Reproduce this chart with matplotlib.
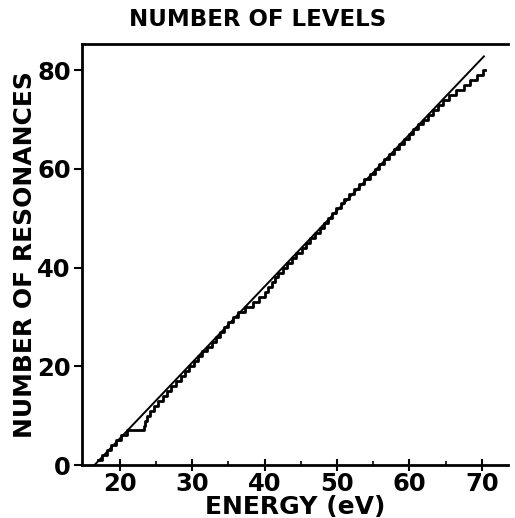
import numpy as np
import matplotlib.pyplot as plt

energias = [17.0, 17.5, 18.2, 18.8, 19.5, 20.2, 21.0, 23.3, 23.5, 23.8,
            24.2, 24.7, 25.3, 25.9, 26.5, 27.1, 27.8, 28.4, 29.0, 29.6,
            30.2, 30.8, 31.4, 32.0, 32.7, 33.3, 33.9, 34.4, 35.0, 35.6,
            36.3, 37.3, 38.4, 39.2, 40.0, 40.5, 41.0, 41.4, 41.9, 42.5,
            43.1, 43.8, 44.4, 45.1, 45.7, 46.3, 46.9, 47.6, 48.2, 48.8,
            49.3, 49.9, 50.5, 51.0, 51.6, 52.4, 53.1, 53.8, 54.5, 55.2,
            55.8, 56.5, 57.2, 57.9, 58.5, 59.2, 59.9, 60.5, 61.2, 61.9,
            62.6, 63.3, 64.0, 64.7, 65.5, 66.5, 67.5, 68.4, 69.3, 70.2]
e_fin = 70.5

# recta de ajuste (dos extremos)
recta_e = [16.5, 70.3]
recta_n = [0.0, 82.8]

xticks = [20, 30, 40, 50, 60, 70]
yticks = [0, 20, 40, 60, 80]

n = np.arange(1, len(energias) + 1)
x_esc = np.append(energias, e_fin)
y_esc = np.append(n, n[-1])

fig = plt.figure(figsize=(5.15, 5.18), dpi=100)
ax = fig.add_axes([0.159, 0.1023, 0.827, 0.8127])

ax.step(x_esc, y_esc, where='post', color='black', lw=2.0)
ax.plot(recta_e, recta_n, color='black', lw=1.4)

ax.set_xlim(14.75, 73.6)
ax.set_ylim(0, 85.3)
ax.set_xticks(xticks)
ax.set_yticks(yticks)
ax.set_xticks([25, 35, 45, 55, 65], minor=True)
ax.tick_params(axis='x', which='major', direction='inout', length=8,
               width=1.5, labelsize=17.5, pad=1)
ax.tick_params(axis='y', which='major', direction='out', length=6,
               width=1.5, labelsize=17.5, pad=2)
ax.tick_params(axis='x', which='minor', direction='in', length=3, width=1.2)
for lab in ax.get_xticklabels() + ax.get_yticklabels():
    lab.set_fontweight('bold')

ax.spines['right'].set_visible(False)
for s in ['left', 'bottom', 'top']:
    ax.spines[s].set_linewidth(2.0)

ax.set_xlabel('ENERGY (eV)', fontsize=18, fontweight='bold', labelpad=-1)
ax.set_ylabel('NUMBER OF RESONANCES', fontsize=18, fontweight='bold',
              labelpad=0)
fig.text(0.50, 0.963, 'NUMBER OF LEVELS', fontsize=16.5, fontweight='bold',
         ha='center', va='center')

plt.savefig('out.png', dpi=100)
